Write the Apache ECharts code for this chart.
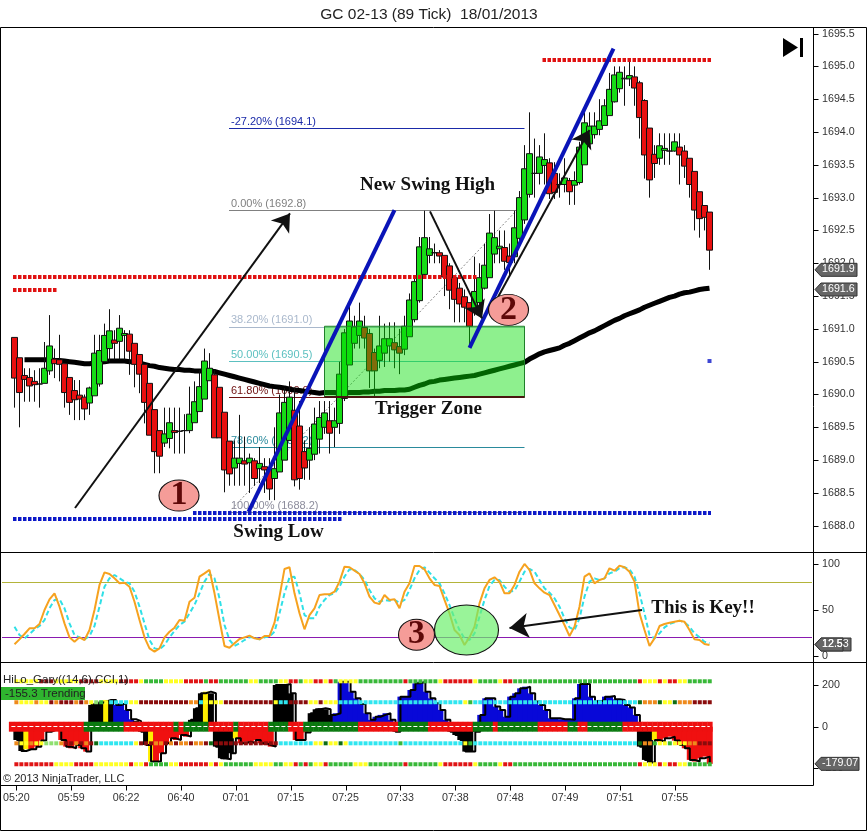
<!DOCTYPE html>
<html>
<head>
<meta charset="utf-8">
<style>html,body{margin:0;padding:0;background:#fff}#c{width:867px;height:831px}</style>
<script src="https://cdn.jsdelivr.net/npm/echarts@6/dist/echarts.min.js"></script>
</head>
<body>
<div id="c"></div>
<script>
const titleText = 'GC 02-13 (89 Tick)  18/01/2013';
const timeTicks = ['05:20','05:59','06:22','06:40','07:01','07:15','07:25','07:33','07:38','07:48','07:49','07:51','07:55'];
const priceTicks = [1688,1688.5,1689,1689.5,1690,1690.5,1691,1691.5,1692,1692.5,1693,1693.5,1694,1694.5,1695,1695.5];
const stochTicks = [0,50,100];
const cciTicks = [-200,0,200];

const opens = [1690.87,1690.56,1690.29,1690.26,1690.20,1690.16,1690.17,1690.36,1690.54,1690.53,
1690.47,1690.26,1690.06,1689.99,1689.96,1689.87,1689.98,1690.16,1690.50,1690.70,
1690.83,1690.81,1690.90,1690.92,1690.78,1690.61,1690.46,1690.17,1689.77,1689.45,
1689.26,1689.33,1689.45,1689.44,1689.45,1689.45,1689.57,1689.74,1689.93,1690.21,
1690.30,1690.11,1689.73,1689.29,1688.88,1688.95,1688.99,1688.96,1688.99,1688.87,
1688.90,1688.86,1688.72,1688.82,1689.00,1689.30,1689.76,1689.52,1689.13,1689.00,
1689.09,1689.32,1689.50,1689.60,1689.50,1689.56,1689.94,1690.45,1690.78,1690.90,
1691.02,1690.93,1690.64,1690.52,1690.63,1690.74,1690.79,1690.73,1690.69,1690.88,
1691.14,1691.43,1691.83,1692.12,1692.16,1692.16,1692.12,1691.96,1691.78,1691.62,
1691.49,1691.40,1691.29,1691.40,1691.62,1691.78,1692.14,1692.22,1692.24,1692.11,
1692.10,1692.38,1692.66,1693.05,1693.37,1693.37,1693.49,1693.53,1693.37,1693.20,
1693.20,1693.26,1693.19,1693.23,1693.50,1693.82,1693.96,1694.04,1694.10,1694.25,
1694.46,1694.66,1694.81,1694.81,1694.84,1694.75,1694.48,1694.06,1693.66,1693.60,
1693.72,1693.71,1693.71,1693.77,1693.71,1693.60,1693.40,1693.09,1692.88,1692.78];
const closes = [1690.25,1690.03,1690.23,1690.13,1690.15,1690.16,1690.40,1690.74,1690.47,1690.46,
1690.03,1689.88,1689.92,1689.93,1689.78,1690.10,1690.63,1690.67,1690.90,1690.97,
1690.78,1691.01,1690.93,1690.66,1690.46,1690.31,1689.88,1689.38,1689.13,1689.06,
1689.40,1689.57,1689.42,1689.44,1689.45,1689.70,1689.89,1690.12,1690.51,1690.40,
1689.34,1689.34,1688.85,1688.79,1689.03,1689.03,1688.94,1689.03,1688.72,1688.95,
1688.85,1688.56,1688.87,1689.72,1689.88,1689.96,1688.70,1688.72,1688.88,1689.18,
1689.55,1689.65,1689.72,1689.41,1689.60,1690.31,1690.94,1691.12,1691.03,1691.12,
1690.86,1690.36,1690.36,1690.74,1690.85,1690.85,1690.68,1690.63,1691.04,1691.44,
1691.72,1692.25,1692.39,1692.22,1692.16,1692.11,1691.79,1691.59,1691.45,1691.38,
1691.33,1691.04,1691.57,1691.78,1691.97,1692.46,1692.39,1692.26,1692.03,1692.01,
1692.54,1693.00,1693.44,1693.67,1693.37,1693.62,1693.58,1693.06,1693.08,1693.20,
1693.30,1693.09,1693.26,1693.77,1694.14,1694.09,1694.09,1694.17,1694.40,1694.65,
1694.87,1694.91,1694.82,1694.86,1694.67,1694.22,1693.65,1693.27,1693.52,1693.79,
1693.75,1693.71,1693.85,1693.65,1693.48,1693.20,1692.81,1692.68,1692.70,1692.20];
const highs = [1690.87,1690.56,1690.40,1690.40,1690.37,1690.40,1690.80,1691.21,1690.70,1690.91,
1690.47,1690.26,1690.22,1690.22,1690.00,1690.12,1690.91,1690.91,1691.08,1691.30,
1690.98,1691.21,1690.98,1690.98,1690.78,1690.61,1690.46,1690.17,1689.77,1689.45,
1689.80,1689.80,1689.80,1689.80,1689.70,1690.12,1690.20,1690.37,1690.70,1690.63,
1690.37,1690.11,1689.73,1689.29,1689.30,1689.69,1689.36,1689.10,1689.03,1689.20,
1689.03,1689.03,1689.50,1690.00,1690.10,1690.20,1690.10,1689.90,1689.30,1689.50,
1689.80,1689.90,1689.90,1689.90,1689.80,1690.50,1691.00,1691.35,1691.20,1691.40,
1691.20,1691.00,1690.70,1691.20,1691.08,1691.10,1691.10,1691.00,1691.20,1691.54,
1691.80,1692.40,1692.80,1692.40,1692.30,1692.20,1692.12,1692.00,1691.80,1691.70,
1691.60,1691.40,1692.10,1692.00,1692.30,1692.75,1692.80,1692.50,1692.50,1692.30,
1692.80,1693.10,1693.80,1694.30,1693.90,1693.80,1693.98,1693.60,1693.54,1693.37,
1693.60,1693.30,1693.40,1693.85,1694.30,1694.30,1694.30,1694.50,1694.50,1694.90,
1695.00,1695.00,1695.00,1695.07,1695.00,1694.78,1694.50,1694.06,1693.80,1693.98,
1693.98,1693.98,1693.98,1693.98,1693.80,1693.60,1693.40,1693.09,1692.88,1692.78];
const lows = [1689.80,1689.50,1689.89,1689.89,1689.89,1689.80,1690.17,1690.30,1690.25,1690.20,
1689.80,1689.69,1689.61,1689.61,1689.61,1689.69,1689.98,1690.12,1690.50,1690.50,
1690.53,1690.53,1690.53,1690.30,1690.11,1690.02,1689.56,1689.38,1688.80,1688.80,
1689.20,1689.18,1689.10,1689.10,1689.10,1689.41,1689.57,1689.74,1689.93,1690.21,
1689.34,1689.34,1688.51,1688.61,1688.61,1688.61,1688.61,1688.50,1688.61,1688.65,
1688.50,1688.39,1688.39,1688.82,1689.00,1689.30,1688.60,1688.55,1688.70,1688.70,
1689.00,1689.10,1689.40,1689.10,1689.20,1689.40,1689.90,1690.45,1690.70,1690.70,
1690.70,1690.10,1689.97,1690.40,1690.42,1690.50,1690.40,1690.31,1690.60,1690.88,
1691.10,1691.40,1691.80,1692.00,1692.00,1692.00,1691.50,1691.30,1691.10,1691.10,
1691.10,1690.73,1691.20,1691.30,1691.60,1691.78,1692.00,1692.00,1691.90,1691.80,
1692.00,1692.30,1692.60,1693.00,1693.00,1693.20,1693.20,1692.98,1692.98,1693.00,
1693.08,1692.89,1692.89,1693.20,1693.50,1693.80,1693.90,1693.95,1694.10,1694.25,
1694.45,1694.60,1694.40,1694.70,1694.40,1693.90,1693.29,1693.00,1693.30,1693.50,
1693.50,1693.50,1693.70,1693.20,1693.30,1693.00,1692.50,1692.39,1692.50,1691.90];
const movingAverage = [null,null,1690.53,1690.53,1690.53,1690.53,1690.53,1690.53,1690.52,1690.52,
1690.51,1690.50,1690.49,1690.48,1690.47,1690.47,1690.48,1690.49,1690.50,1690.51,
1690.51,1690.51,1690.51,1690.50,1690.50,1690.48,1690.46,1690.44,1690.43,1690.41,
1690.40,1690.39,1690.38,1690.38,1690.37,1690.37,1690.36,1690.36,1690.36,1690.36,
1690.35,1690.33,1690.31,1690.29,1690.27,1690.25,1690.23,1690.21,1690.19,1690.17,
1690.15,1690.13,1690.12,1690.11,1690.10,1690.08,1690.07,1690.06,1690.05,1690.04,
1690.03,1690.02,1690.03,1690.03,1690.03,1690.02,1690.02,1690.03,1690.03,1690.03,
1690.04,1690.04,1690.05,1690.05,1690.06,1690.06,1690.06,1690.07,1690.07,1690.08,
1690.11,1690.14,1690.16,1690.19,1690.20,1690.22,1690.23,1690.24,1690.25,1690.26,
1690.27,1690.28,1690.29,1690.31,1690.33,1690.35,1690.37,1690.39,1690.41,1690.43,
1690.45,1690.47,1690.49,1690.54,1690.58,1690.62,1690.65,1690.67,1690.69,1690.71,
1690.75,1690.78,1690.82,1690.86,1690.90,1690.94,1690.97,1691.01,1691.05,1691.09,
1691.13,1691.16,1691.20,1691.23,1691.26,1691.29,1691.33,1691.36,1691.39,1691.42,
1691.45,1691.48,1691.50,1691.53,1691.55,1691.56,1691.58,1691.60,1691.61,1691.62];

const stochK = [12.7,18.1,23.9,30.1,30.1,34.8,50,61.6,68.1,53.6,
35.5,20.3,15.6,20.3,17.4,28.2,50,77.2,90.9,89.1,
84.4,79,79.7,75.3,59,39.1,20.3,8.3,4.7,8.3,
20.3,26.4,30.8,39.1,38.4,59,63.4,86.2,89.8,93.5,
68.1,39.1,10.9,9,13.8,18.5,20.3,22.1,19.2,18.1,
21.7,21.7,36.2,64.5,94.6,96.4,68.1,46.4,29,44.5,
51.8,66.3,67,67,69.9,80.8,97.1,96.4,92.7,89.1,
79,64.5,58,56.5,66.3,60.9,61.6,51.8,69.9,79,
97.8,97.8,94.2,84.4,77.2,76.1,60.9,46.4,28.2,22.8,
11.9,20.3,31.9,57.2,73.5,82.6,85.5,80.8,68.1,68.1,
77.2,91.6,100,93.5,79,73.5,68.8,66.3,55.4,44.5,
33.7,21.7,31.9,53.6,86.2,89.8,79,82.6,84.4,95.3,
92.7,98.2,96.4,91.6,80.8,46.4,28.2,10.9,19.2,32.6,
34.8,36.2,37.3,38.4,37.3,28.2,18.1,17.4,13,11.9];
const stochD = [31.9,22.8,19.2,23.9,29,32.6,39.1,51.8,60.9,61.6,
51.8,35.5,22.8,20.3,18.1,21.7,32.6,53.6,75.3,84.4,
88,84.4,80.8,79,69.9,53.6,35.5,17.4,8.3,7.2,
11.9,20.3,27.2,33.7,37.3,46.4,55.4,68.1,80.8,89.1,
84.4,62.7,33.7,17.4,10.9,13.8,17.4,20.3,20.3,18.1,
20.3,21,26.4,46.4,68.1,85.5,86.2,68.1,44.5,41,
41,53.6,60.9,66.3,68.1,75.3,86.2,94.2,93.5,89.1,
82.6,71.7,62.7,59,60.9,60.1,60.9,58,60.9,71.7,
84.4,93.5,96.4,90.6,84.4,79,68.1,55.4,41,28.2,
19.2,17.4,24.6,42.7,60.9,76.1,82.6,82.6,75.3,69.9,
71,80.8,91.6,94.6,91.6,82.6,73.5,68.8,62.7,53.6,
41,31.1,28.2,41,64.5,80.8,84.4,82.6,84.4,89.8,
91.6,95.3,96.4,94.2,86.2,68.1,46.4,22.8,19.2,24.6,
31.1,34.8,36.6,38.4,36.6,31.9,24.6,20.3,15.6,13.8];

const cciValues = [-64,-117,-109,-109,-96,-67,-24,-15,-15,-64,
-96,-104,-88,-104,-120,105,113,121,129,129,
105,113,81,36,27,-24,-88,-168,-168,-128,
-80,-56,-64,-40,-48,33,89,161,169,161,
-96,-152,-157,-128,-56,-80,-72,-80,-64,-80,
-88,-96,201,201,206,161,-64,-64,-28,65,
84,89,84,57,65,217,217,169,137,110,
65,33,48,57,65,33,-24,145,145,177,
209,217,169,137,113,81,33,-24,-40,-64,
-120,-120,-24,57,137,137,97,81,48,145,
161,185,193,161,121,105,81,41,41,36,
36,33,137,206,206,145,121,129,145,148,
132,129,105,93,57,-96,-160,-173,-64,-72,
-56,-48,-67,-88,-104,-160,-168,-152,-144,-179];
const cciState = 'kkyrrrrrrr'+'rrrrrkkkyk'+'bbbbkkkyrr'+'rrrrrkkkyk'+'kkkkyrrrrr'+'rrkkkkrrrk'+'kkkkbbbbbb'+'bbbbbbkbbb'+
  'bbbbbbbkkk'+'kkkbbbbbbb'+'bbbbbbbbbb'+'bbbbbbbbbb'+'bbbbbkkkyr'+'rrrrrrrrrr';
const bandRuns = [['r',15],['g',8],['r',10],['g',1],['r',1],['g',5],['r',5],['g',1],['r',6],['g',4],['r',3],['g',11],['r',8],['g',6],['r',9],['g',4],['r',1],['g',8],['r',6],['g',2],['r',2],['g',7],['r',18]];
const bandHalfHeight = 24;
const dotLevels = [219,118,-80,-181];
const dotRow1 = 'yyyyydddyy'+'yyyddddyyy'+'yddrrygggg'+'yyyyrrrrgr'+'rggggggyyg'+'gggyyrrgyy'+'rryrgyyyyg'+'ggggggggrg'+'gggggyrrrr'+'rryggggyrr'+'gggggggggg'+'gggggggggg'+'gggggryyyr'+'yrryyggggg';
const dotRow2 = 'oyyyoyydod'+'ddodoylgyc'+'cccyyddddd'+'dddddoocyy'+'yydddddddd'+'ddyccddddy'+'ydyyyccccc'+'cccccccccc'+'cccccccccc'+'ygcccccccc'+'cccccccccc'+'cccccccccc'+'cccccDoooD'+'yyDooodddd';
const dotRow3 = 'oyyoyylllo'+'ddododDccc'+'ccccydddoo'+'dodoodoodD'+'dddddddddd'+'dddccccccc'+'yyDyyDyccc'+'cccccccgcc'+'cccccccccc'+'ygcccccccc'+'cccccccccc'+'cccccccccc'+'cccccDoogy'+'ygyyyooddd';
const dotRow4 = 'rrrrrrrryy'+'yyrrrryyyy'+'yyyryyrggg'+'gyyrrrrrry'+'ryggggggyy'+'yyggyyrgrg'+'yyrgggggyy'+'ygggggggrg'+'gggggyrrrr'+'rryggggyrr'+'gggggggggg'+'gggggggggg'+'gggggryyyr'+'yrryyggggg';

const fibLevels = [
  ['-27.20% (1694.1)',1694.06],['0.00% (1692.8)',1692.81],['38.20% (1691.0)',1691.03],
  ['50.00% (1690.5)',1690.50],['61.80% (1690.0)',1689.96],['78.60% (1689.2)',1689.20],['100.00% (1688.2)',1688.21]];
const stochLevels = [80,20];
const redLevels = [[-0.3,92.4,1691.8],[-0.3,8.5,1691.6],[105.6,139.3,1695.1]];
const blueLevels = [[-0.3,65.4,1688.1],[35.7,139.3,1688.2]];
const blueTrends = [[46.8,1688.21,76.0,1692.81],[91,1690.71,119.8,1695.27]];
const blackArrows = [[12.1,1688.27,55.1,1692.76],[83.1,1692.79,93.5,1691.16],[95.8,1691.36,115,1694.03]];
const fibDiagonal = [42.9,1688.21,100.5,1692.81];
const zone = [62,1691.04,102,1689.96];
const keyArrow = [125.5,50,99,30.4];
const priceNotes = [['New Swing High',82.6,1693.19],['Trigger Zone',82.8,1689.78],['Swing Low',52.8,1687.91]];
const stochNote = ['This is Key!!',137.7,52];
const priceBadges = [['1',32.9,1688.46],['2',98.8,1691.29]];
const stochBadge = ['3',80.4,23.2];
const keyEllipse = [90.4,28.3];
const lastDot = [139,1690.51];
const valueTags = [[0,1691.9,'1691.9',42],[0,1691.6,'1691.6',42],[1,12.5,'12.53',36],[1,12.5,'12.5',28],[2,-179.07,'-179.07',44]];

const LEAD = 2, TOTAL = 162;
const cats = new Array(TOTAL).fill('');
timeTicks.forEach((t,k)=>{cats[LEAD+11*k]=t;});
const at = i=>LEAD+i;
const dotColor = {g:'#38b838',r:'#e01414',y:'#ffff22',d:'#8a0c0c',c:'#2fe6f0',o:'#ee8a1c',l:'#8fe070',D:'#0e6c14'};
const histColor = {k:'#000',b:'#0808d8',r:'#f01010',y:'#ffee00'};
const xr = {min:-2.5,max:159.5};
const AX = {show:false};

const candleData = opens.map((o,i)=>[at(i),o,closes[i],lows[i],highs[i]]);
const seg = (a,st)=>[{coord:[a[0],a[1]],symbol:'none',lineStyle:st},{coord:[a[2],a[3]],symbol:'none'}];
const arrow = (a,st,sz)=>[{coord:[a[0],a[1]],symbol:'none',lineStyle:st},{coord:[a[2],a[3]],symbol:'arrow',symbolSize:sz}];
const markHost = (xi,yi,z,ml,ma)=>({type:'line',xAxisIndex:xi,yAxisIndex:yi,data:[],silent:true,z,
  markLine:ml?{silent:true,symbol:'none',z,label:{show:false},animation:false,precision:6,data:ml}:undefined,
  markArea:ma?{silent:true,z,animation:false,label:{show:false},data:ma}:undefined});

const fibColors = ['#1a2aa8','#808080','#a9b8cc','#5cc0c0','#6e1010','#2a8a9c','#8c8c9c'];
const fibLines = fibLevels.map((f,k)=>[
  {coord:[42.9,f[1]],symbol:'none',lineStyle:{color:fibColors[k],width:1,type:'solid'},
   label:{show:true,position:'insideStartTop',distance:[2,1],formatter:f[0],color:fibColors[k],fontSize:11,fontFamily:'Liberation Sans'}},
  {coord:[102,f[1]],symbol:'none'}]);
const dotted = c=>({color:c,width:4,type:[3.5,1.5]});
const levelSegs = redLevels.map(r=>seg([r[0],r[2],r[1],r[2]],dotted('#e01212'))).concat(blueLevels.map(r=>seg([r[0],r[2],r[1],r[2]],dotted('#0c18c8'))));
const noteLabel = {show:true,position:'inside',opacity:1,color:'#111',fontFamily:'Liberation Serif',fontWeight:'bold',fontSize:19,formatter:p=>p.data[2]};
const badgeLabel = {show:true,position:'inside',color:'#5e0808',fontFamily:'Liberation Serif',fontWeight:'bold',fontSize:34,formatter:p=>p.data[2]};
const badgeStyle = {color:'#f59c98',borderColor:'#111',borderWidth:1,opacity:1};
const hiddenDot = {color:'rgba(0,0,0,0)',borderWidth:0};

const series = [
  markHost(3,0,1,fibLines.concat([seg(fibDiagonal,{color:'#888',width:1,type:[2,2]})])),
  {type:'line',xAxisIndex:0,yAxisIndex:0,z:1,silent:true,symbol:'none',connectNulls:false,
   lineStyle:{color:'#000',width:5},data:movingAverage.map((v,i)=>[at(i),v])},
  {type:'candlestick',xAxisIndex:0,yAxisIndex:0,z:2,silent:true,barWidth:6,encode:{x:0,y:[1,2,3,4]},
   itemStyle:{color:'#16dc16',color0:'#e81010',borderColor:'#111',borderColor0:'#111',borderColorDoji:'#111',borderWidth:1},
   data:candleData},
  markHost(3,0,3,null,[[{coord:[zone[0],zone[1]],itemStyle:{color:'rgba(4,222,4,0.45)',borderColor:'#1f7f2a',borderWidth:1}},{coord:[zone[2],zone[3]]}]]),
  markHost(3,0,4,levelSegs.concat(blueTrends.map(b=>seg(b,{color:'#0a14b8',width:4,type:'solid'})),
     blackArrows.map(b=>arrow(b,{color:'#111',width:2,type:'solid'},17)),
     [seg([zone[0],zone[3],zone[2],zone[3]],{color:'#4a1610',width:2,type:'solid'})])),
  {type:'scatter',xAxisIndex:0,yAxisIndex:0,z:4,silent:true,symbol:'rect',symbolSize:4,itemStyle:{color:'#0c18c8'},data:[[at(lastDot[0]),lastDot[1]]]},
  {type:'scatter',xAxisIndex:3,yAxisIndex:0,z:6,silent:true,symbol:'circle',symbolSize:2,itemStyle:hiddenDot,label:noteLabel,data:priceNotes.map(n=>[n[1],n[2],n[0]])},
  {type:'scatter',xAxisIndex:3,yAxisIndex:0,z:6,silent:true,symbol:'circle',symbolSize:[40,31],itemStyle:badgeStyle,label:badgeLabel,data:priceBadges.map(n=>[n[1],n[2],n[0]])},

  {type:'line',xAxisIndex:1,yAxisIndex:1,z:1,silent:true,symbol:'none',data:[],
   markLine:{silent:true,symbol:'none',z:1,animation:false,label:{show:false},data:[
     {yAxis:stochLevels[0],lineStyle:{color:'#b4b43a',width:1,type:'solid'}},
     {yAxis:stochLevels[1],lineStyle:{color:'#8a1ab0',width:1,type:'solid'}}]}},
  {type:'line',xAxisIndex:1,yAxisIndex:1,z:2,silent:true,symbol:'none',lineStyle:{color:'#2fe0e6',width:2,type:[5,3]},data:stochD.map((v,i)=>[at(i),v])},
  {type:'line',xAxisIndex:1,yAxisIndex:1,z:3,silent:true,symbol:'none',lineStyle:{color:'#f6a21f',width:2},data:stochK.map((v,i)=>[at(i),v])},
  {type:'scatter',xAxisIndex:4,yAxisIndex:1,z:4,silent:true,symbol:'circle',symbolSize:[64,50],
   itemStyle:{color:'rgba(110,240,110,0.7)',borderColor:'#111',borderWidth:1,opacity:1},data:[keyEllipse]},
  {type:'scatter',xAxisIndex:4,yAxisIndex:1,z:5,silent:true,symbol:'circle',symbolSize:[36,31],itemStyle:badgeStyle,label:badgeLabel,data:[[stochBadge[1],stochBadge[2],stochBadge[0]]]},
  markHost(4,1,5,[arrow(keyArrow,{color:'#111',width:2,type:'solid'},19)]),
  {type:'scatter',xAxisIndex:4,yAxisIndex:1,z:6,silent:true,symbol:'circle',symbolSize:2,itemStyle:hiddenDot,label:noteLabel,data:[[stochNote[1],stochNote[2],stochNote[0]]]},

  {type:'bar',xAxisIndex:2,yAxisIndex:2,z:2,silent:true,barWidth:6,
   data:cciValues.map((v,i)=>({value:[at(i),v],itemStyle:{color:histColor[cciState[i]]}}))},
  {type:'line',xAxisIndex:2,yAxisIndex:2,z:3,silent:true,symbol:'none',step:'end',lineStyle:{color:'#000',width:2},data:cciValues.map((v,i)=>[at(i),v])}
];
[dotRow1,dotRow2,dotRow3,dotRow4].forEach((row,k)=>{
  series.push({type:'scatter',xAxisIndex:2,yAxisIndex:2,z:4,silent:true,symbol:'rect',symbolSize:[4,4],
    data:row.split('').map((c,i)=>({value:[at(i),dotLevels[k]],itemStyle:{color:dotColor[c],opacity:1}}))});
});
const bandSeq = []; bandRuns.forEach(r=>{for(let j=0;j<r[1];j++)bandSeq.push(r[0]);});
const bandColor = {r:'#ee1010',g:'#0b7a10'};
series.push({type:'custom',xAxisIndex:2,yAxisIndex:2,z:5,silent:true,encode:{x:0,y:1},clip:false,
  data:bandSeq.map((c,i)=>[i+1,bandHalfHeight,-bandHalfHeight,c==='r'?0:1]),
  renderItem:(params,api)=>{
    const a=api.coord([api.value(0),api.value(1)]), b=api.coord([api.value(0),api.value(2)]);
    const w=api.size([1,0])[0];
    return {type:'rect',shape:{x:a[0]-w/2,y:a[1],width:w+0.4,height:b[1]-a[1]},
      style:{fill:api.value(3)===0?bandColor.r:bandColor.g}};
  }});
series.push({type:'line',xAxisIndex:2,yAxisIndex:2,z:6,silent:true,data:[],
  markLine:{silent:true,symbol:'none',z:6,animation:false,label:{show:false},
    data:[[{coord:[at(-1),0],lineStyle:{color:'#fff',width:1,type:[4,2]}},{coord:[at(139),0]}]]}});

const yCommon = {position:'right',axisLine:{show:false},splitLine:{show:false},axisTick:{show:false}};
const yLabel = (vals,fmt)=>({customValues:vals,formatter:fmt,color:'#333',fontSize:10.7,fontFamily:'Liberation Sans',margin:10});
const xCat = (gi,show)=>({type:'category',gridIndex:gi,data:cats,boundaryGap:true,
  axisLine:{show:false},axisTick:{show:false},
  axisLabel:{show:show,interval:0,color:'#333',fontSize:10.7,fontFamily:'Liberation Sans',margin:8,hideOverlap:false}});

const option = {
  animation:false,backgroundColor:'#fff',
  title:{text:titleText,left:424,top:2,textAlign:'center',textStyle:{fontSize:15.5,fontWeight:'normal',color:'#222',fontFamily:'Liberation Sans'}},
  grid:[{left:2,top:27,width:810,height:525},{left:2,top:552,width:810,height:110},{left:2,top:662,width:810,height:123}],
  xAxis:[xCat(0,false),xCat(1,false),xCat(2,true),
    Object.assign({type:'value',gridIndex:0},xr,AX),Object.assign({type:'value',gridIndex:1},xr,AX)],
  yAxis:[
    Object.assign({},yCommon,{type:'value',gridIndex:0,min:1687.6,max:1695.6,axisLabel:yLabel(priceTicks,v=>v.toFixed(1))}),
    Object.assign({},yCommon,{type:'value',gridIndex:1,min:-6.5,max:113,axisLabel:yLabel(stochTicks,v=>String(v))}),
    Object.assign({},yCommon,{type:'value',gridIndex:2,min:-281,max:312,axisLabel:yLabel(cciTicks,v=>String(v))})
  ],
  series
};
const chart = echarts.init(document.getElementById('c'),null,{renderer:'canvas',width:867,height:831});
chart.setOption(option);

const line = (x1,y1,x2,y2)=>({type:'line',z:30,silent:true,shape:{x1,y1,x2,y2},style:{stroke:'#000',lineWidth:1}});
const g = [
  line(0.5,27.5,866.5,27.5),line(0.5,552.5,866.5,552.5),line(0.5,662.5,866.5,662.5),
  line(0.5,785.5,813.5,785.5),line(813.5,27.5,813.5,785.5),line(0.5,27.5,0.5,830.5),
  line(0.5,830.5,866.5,830.5),line(866.5,27.5,866.5,830.5),
  {type:'polygon',z:30,silent:true,shape:{points:[[783,38],[798,47.5],[783,57]]},style:{fill:'#000'}},
  {type:'rect',z:30,silent:true,shape:{x:800,y:38,width:3,height:19},style:{fill:'#000'}},
  {type:'rect',z:28,silent:true,shape:{x:0,y:687,width:85,height:13},style:{fill:'#2fb52f'}},
  {type:'text',z:30,silent:true,style:{x:3,y:674,text:'HiLo_Gary((14,6),CCI,1)',fill:'#222',font:'11.5px "Liberation Sans"'}},
  {type:'text',z:30,silent:true,style:{x:5,y:688,text:'-155.3 Trending',fill:'#222',font:'11.5px "Liberation Sans"'}},
  {type:'text',z:30,silent:true,style:{x:3,y:773,text:'\u00a9 2013 NinjaTrader, LLC',fill:'#222',font:'11px "Liberation Sans"'}}
];
[[0,priceTicks],[1,stochTicks],[2,cciTicks]].forEach(p=>{
  p[1].forEach(v=>{
    const y=Math.round(chart.convertToPixel({yAxisIndex:p[0]},v))+0.5;
    g.push(line(813.5,y,818.5,y));
  });
});
timeTicks.forEach((t,k)=>{
  const x=Math.round(chart.convertToPixel({xAxisIndex:2},LEAD+11*k))+0.5;
  g.push(line(x,785.5,x,790.5));
});
valueTags.forEach(t=>{
  const y = chart.convertToPixel({yAxisIndex:t[0]},t[1]);
  const x0 = 815, x1 = x0+t[3];
  g.push({type:'polygon',z:31,silent:true,shape:{points:[[x0,y],[x0+6,y-6.5],[x1,y-6.5],[x1,y+6.5],[x0+6,y+6.5]]},style:{fill:'#666',stroke:'#333',lineWidth:1}});
  g.push({type:'text',z:32,silent:true,style:{x:x0+7,y:y-6,text:t[2],fill:'#fff',font:'10.7px "Liberation Sans"'}});
});
chart.setOption({graphic:{elements:g}});
</script>
</body>
</html>
